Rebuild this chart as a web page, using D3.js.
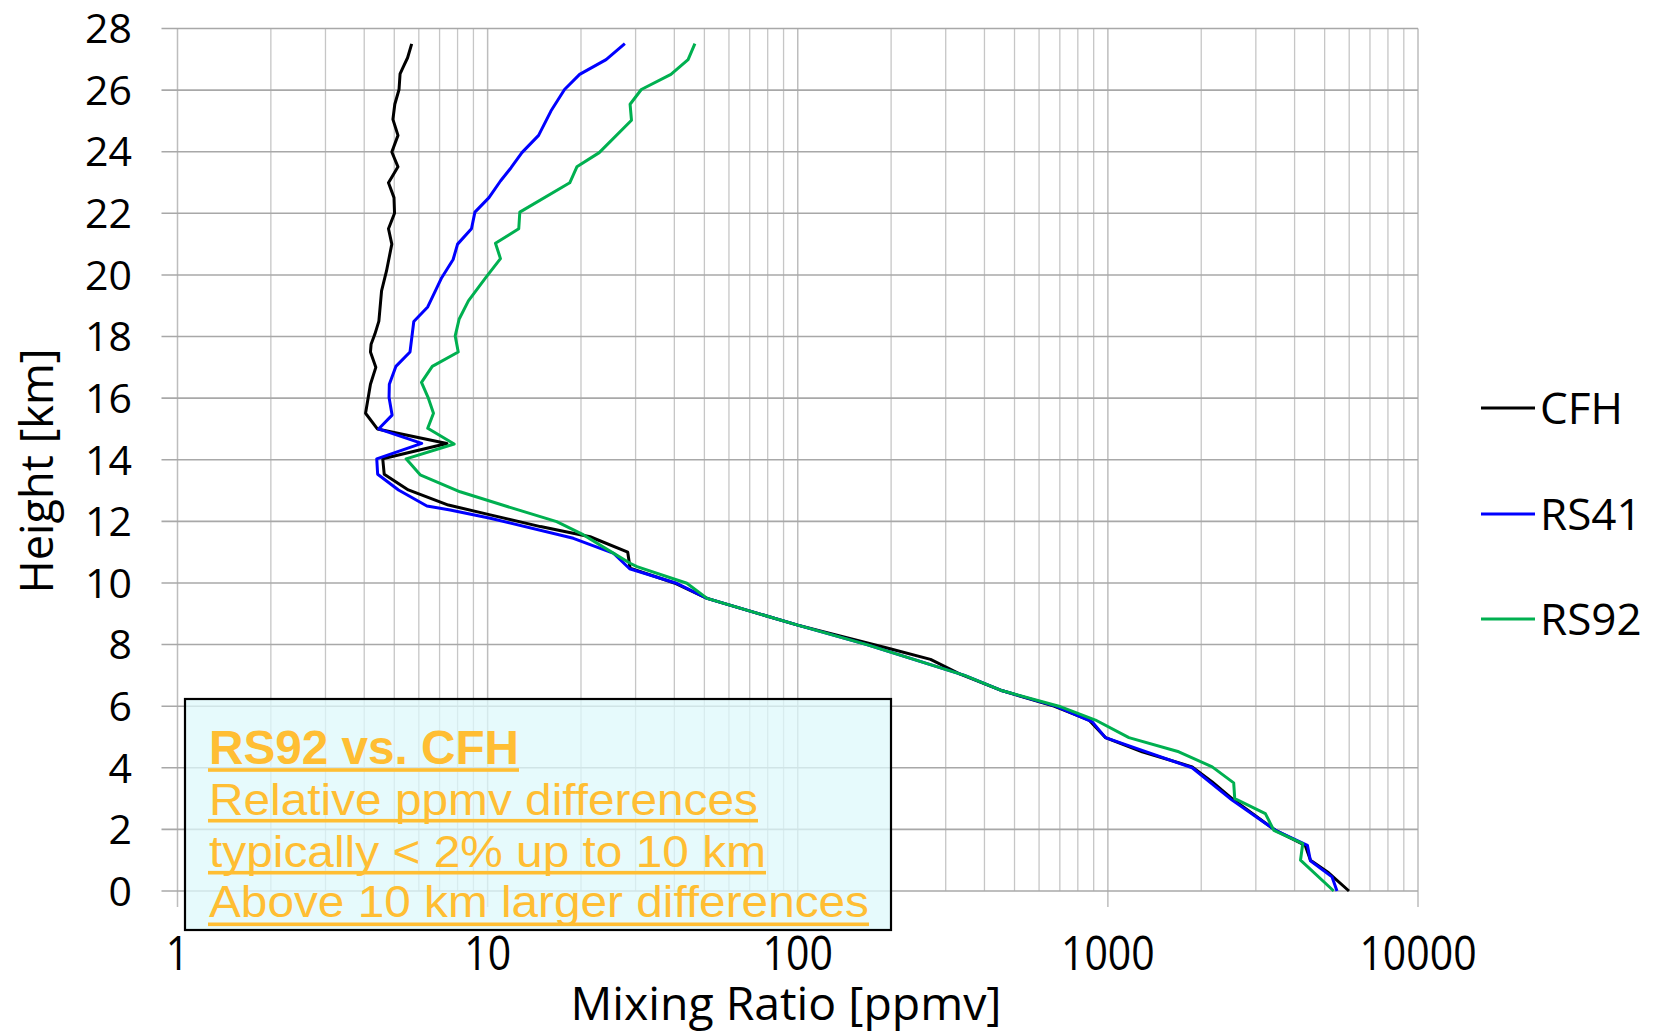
<!DOCTYPE html>
<html>
<head>
<meta charset="utf-8">
<script src="https://cdn.jsdelivr.net/npm/d3@7"></script>
<style>
html,body{margin:0;padding:0;background:#fff;}
svg{display:block;}
</style>
</head>
<body>
<svg id="chart" width="1657" height="1034"></svg>
<script>
// ---------------- DATA ----------------
const seriesNames = ["CFH", "RS41", "RS92"];
const seriesColors = ["#000000", "#0000FF", "#00B050"];

const cfhHeight = [0,0.59,1.0,1.48,1.97,3.0,3.54,4.03,4.52,4.98,5.55,6.0,6.5,7.06,7.52,7.87,8.63,9.5,10.0,10.48,11.0,11.5,11.83,12.21,12.53,13.02,13.53,14.03,14.53,15.0,15.51,16.45,17.0,17.5,17.75,18.08,18.5,19.48,20.13,21.0,21.5,22.0,22.51,22.99,23.51,23.99,24.53,25.05,25.54,26.02,26.53,26.78,27.05,27.5];
const cfhRatio  = [5990,5150,4500,4330,3470,2515,2170,1870,1290,982,869,670,457,331,268,197,100,51,40,28.8,28.3,21.4,14.8,10.2,7.47,5.55,4.64,4.59,7.39,4.41,4.04,4.19,4.36,4.19,4.21,4.33,4.46,4.55,4.72,4.91,4.79,5.01,4.99,4.79,5.14,4.91,5.14,4.95,5.02,5.18,5.22,5.36,5.52,5.69];

const rs41Height = [0,0.46,0.98,1.48,1.97,2.95,4.0,4.98,5.49,6.0,6.5,7.0,8.0,8.63,9.5,10.0,10.46,10.96,11.45,12.1,12.37,12.5,13.02,13.53,14.03,14.53,15.0,15.45,16.02,16.45,17.03,17.5,18.49,18.96,19.91,20.5,21.0,21.5,22.04,22.51,23.05,23.48,23.97,24.53,25.32,26.02,26.51,26.99,27.51];
const rs41Ratio  = [5480,5280,4500,4400,3470,2515,1870,982,891,678,457,345,167,100,51,40.4,28.7,25.5,18.9,10.2,7.57,6.37,5.16,4.42,4.39,6.13,4.45,4.92,4.81,4.82,5.06,5.62,5.78,6.41,7.11,7.74,8.0,8.87,9.1,10.1,11.0,11.9,12.9,14.6,16.0,17.7,19.8,24.1,27.7];

const rs92Height = [0,1.0,1.54,1.97,2.51,3.0,3.51,4.03,4.52,4.98,5.55,6.0,6.5,7.0,8.0,8.63,9.5,9.99,10.53,10.64,10.96,11.56,11.99,12.42,12.96,13.51,14.03,14.51,15.02,15.51,16.0,16.51,17.03,17.5,18.02,18.56,19.16,19.91,20.53,21.03,21.5,22.04,22.99,23.51,23.97,25.02,25.54,26.02,26.51,26.99,27.51];
const rs92Ratio  = [5350,4180,4250,3430,3220,2565,2545,2170,1693,1169,912,695,457,345,167,100,51,43.9,30.3,28.8,25.5,20.4,16.7,12.1,8.15,6.06,5.46,7.8,6.41,6.69,6.44,6.12,6.63,8.04,7.86,8.09,8.67,9.86,11.0,10.6,12.6,12.7,18.4,19.4,22.9,29.1,28.8,31.3,39.0,44.3,46.6];

const yTicks = [0,2,4,6,8,10,12,14,16,18,20,22,24,26,28];
const xTicks = [1,10,100,1000,10000];
const xTickLabels = ["1","10","100","1000","10000"];
const xTitle = "Mixing Ratio [ppmv]";
const yTitle = "Height [km]";
const noteTitle = "RS92 vs. CFH";
const noteLines = ["Relative ppmv differences", "typically < 2% up to 10 km", "Above 10 km larger differences"];

// ---------------- LAYOUT ----------------
const svg = d3.select("#chart");
const L = 177.5, R = 1418, T = 28.5, B = 891;
const x = d3.scaleLog().domain([1, 10000]).range([L, R]);
const y = d3.scaleLinear().domain([0, 28]).range([B, T]);
const labelFont = "'Open Sans', 'DejaVu Sans', sans-serif";

// minor vertical grid
const minor = [];
for (let d = 1; d < 10000; d *= 10) for (let k = 2; k <= 9; k++) minor.push(d * k);
svg.append("g").selectAll("line").data(minor).join("line")
  .attr("x1", d => x(d)).attr("x2", d => x(d))
  .attr("y1", T).attr("y2", B)
  .attr("stroke", "#c6c6c6").attr("stroke-width", 1.3);

// major vertical grid (with tick extension)
svg.append("g").selectAll("line").data(xTicks).join("line")
  .attr("x1", d => x(d)).attr("x2", d => x(d))
  .attr("y1", T).attr("y2", B + 16)
  .attr("stroke", "#bdbdbd").attr("stroke-width", 1.5);

// horizontal grid (with tick extension)
svg.append("g").selectAll("line").data(yTicks).join("line")
  .attr("x1", L - 16).attr("x2", R)
  .attr("y1", d => y(d)).attr("y2", d => y(d))
  .attr("stroke", "#a8a8a8").attr("stroke-width", 1.6);

// y tick labels
svg.append("g").selectAll("text").data(yTicks).join("text")
  .attr("x", 132).attr("y", d => y(d)).attr("dy", "0.36em")
  .attr("text-anchor", "end")
  .attr("font-family", labelFont).attr("font-size", 41)
  .attr("fill", "#000")
  .text(d => d);

// x tick labels (slightly tall)
svg.append("g").selectAll("text").data(xTicks).join("text")
  .attr("transform", d => `translate(${x(d)},970) scale(1,1.18)`)
  .attr("text-anchor", "middle")
  .attr("font-family", labelFont).attr("font-size", 41)
  .attr("fill", "#000")
  .text((d, i) => xTickLabels[i]);

// axis titles
svg.append("text")
  .attr("x", 786).attr("y", 1020)
  .attr("text-anchor", "middle")
  .attr("font-family", labelFont).attr("font-size", 46)
  .attr("textLength", 431).attr("lengthAdjust", "spacingAndGlyphs")
  .text(xTitle);

svg.append("text")
  .attr("transform", "translate(53,471) rotate(-90)")
  .attr("text-anchor", "middle")
  .attr("font-family", labelFont).attr("font-size", 46)
  .attr("textLength", 245).attr("lengthAdjust", "spacingAndGlyphs")
  .text(yTitle);

// series lines
const seriesData = [
  cfhHeight.map((h, i) => ({h, v: cfhRatio[i]})),
  rs41Height.map((h, i) => ({h, v: rs41Ratio[i]})),
  rs92Height.map((h, i) => ({h, v: rs92Ratio[i]}))
];
const line = d3.line().x(d => x(d.v)).y(d => y(d.h));
const drawOrder = [0, 1, 2];
svg.append("g").selectAll("path").data(drawOrder).join("path")
  .attr("d", i => line(seriesData[i]))
  .attr("fill", "none")
  .attr("stroke", i => seriesColors[i])
  .attr("stroke-width", 3)
  .attr("stroke-linejoin", "round");

// legend
const legY = [408, 514, 619];
const leg = svg.append("g").selectAll("g").data(seriesNames).join("g")
  .attr("transform", (d, i) => `translate(0,${legY[i]})`);
leg.append("line").attr("x1", 1481).attr("x2", 1535).attr("y1", 0).attr("y2", 0)
  .attr("stroke", (d, i) => seriesColors[i]).attr("stroke-width", 3);
leg.append("text").attr("x", 1540).attr("y", 16)
  .attr("font-family", labelFont).attr("font-size", 44)
  .attr("fill", "#000")
  .text(d => d);

// annotation box
const box = svg.append("g");
box.append("rect").attr("x", 185).attr("y", 699).attr("width", 706).attr("height", 231)
  .attr("fill", "#def8fb").attr("fill-opacity", 0.75)
  .attr("stroke", "#000").attr("stroke-width", 2.2);
const orange = "#FFBE33";
const noteFont = "'Liberation Sans Narrow', 'Liberation Sans', Arial, sans-serif";
const noteItems = [
  {t: noteTitle, base: 764, ul: 770, w: 310, bold: true, size: 48},
  {t: noteLines[0], base: 815, ul: 820.7, w: 549, bold: false, size: 44},
  {t: noteLines[1], base: 866.5, ul: 872.7, w: 557, bold: false, size: 44},
  {t: noteLines[2], base: 916.5, ul: 924.3, w: 660, bold: false, size: 44}
];
box.selectAll("text").data(noteItems).join("text")
  .attr("x", 209).attr("y", d => d.base)
  .attr("font-family", noteFont).attr("font-size", d => d.size)
  .attr("font-weight", d => d.bold ? "bold" : "normal")
  .attr("fill", orange)
  .attr("textLength", d => d.w).attr("lengthAdjust", "spacingAndGlyphs")
  .text(d => d.t);
box.selectAll("rect.ul").data(noteItems).join("rect").attr("class", "ul")
  .attr("x", 208).attr("y", d => d.ul - 1.8).attr("width", d => d.w + 1).attr("height", 3.6)
  .attr("fill", orange);
</script>
</body>
</html>
